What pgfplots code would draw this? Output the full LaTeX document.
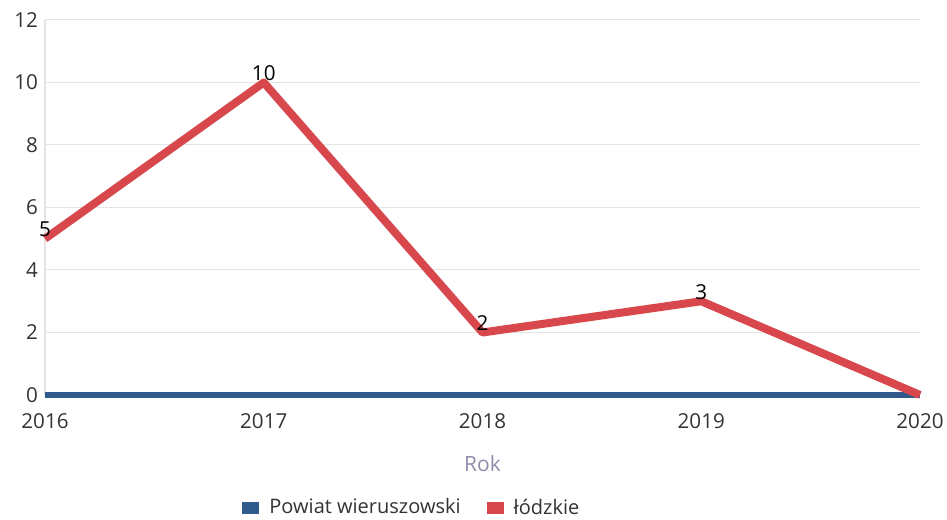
\documentclass[border=0pt]{standalone}
\usepackage{pgfplots}
\pgfplotsset{compat=1.18}
\usepackage{fontspec}
\setmainfont{Open Sans}
\definecolor{redl}{HTML}{D8474C}
\definecolor{bluel}{HTML}{2F5A8A}
\definecolor{gridc}{HTML}{E4E4E4}
\definecolor{tickc}{HTML}{333333}
\definecolor{rokc}{HTML}{8E8CA8}
\begin{document}
\begin{tikzpicture}[x=1pt,y=1pt]
\useasboundingbox (0,0) rectangle (473.5,259.5);
\begin{axis}[
  at={(22.5pt,62pt)}, anchor=south west,
  scale only axis, width=437.5pt, height=187.5pt,
  xmin=2016, xmax=2020, ymin=0, ymax=12,
  xtick={2016,2017,2018,2019,2020},
  ytick={0,2,4,6,8,10,12},
  /pgf/number format/assume math mode=true,
  xticklabel={\pgfmathprintnumber[1000 sep={}]{\tick}},
  tick label style={font=\fontsize{10.3}{12}\selectfont, text=tickc},
  xticklabel style={yshift=-5.5pt},
  major tick length=0pt,
  ymajorgrids, grid style={gridc, line width=0.5pt},
  axis x line*=bottom, axis y line*=left,
  x axis line style={draw=none},
  y axis line style={gridc, line width=0.8pt},
  xlabel={Rok}, xlabel style={font=\fontsize{10.5}{12}\selectfont, text=rokc, yshift=-7pt},
  clip=false,
  legend style={at={(0.417,-0.301)}, anchor=center, draw=none, legend columns=2,
    font=\fontsize{10}{12}\selectfont, text=tickc,
    /tikz/every even column/.append style={column sep=8pt}},
  legend image code/.code={\draw[#1, line width=6pt, line cap=butt] (0pt,-0.3pt) -- (8.5pt,-0.3pt);},
]
\addplot[bluel, line width=3pt] coordinates {(2016,0) (2017,0) (2018,0) (2019,0) (2020,0)};
\addlegendentry{Powiat wieruszowski}
\addplot[redl, line width=4pt, line join=round] coordinates {(2016,5) (2017,10) (2018,2) (2019,3) (2020,0)};
\addlegendentry{łódzkie}
\addplot[draw=none, forget plot, nodes near coords, point meta=y,
  every node near coord/.style={anchor=center, yshift=4.5pt, font=\fontsize{10.3}{12}\selectfont, text=black,
    /pgf/number format/assume math mode=true}]
  coordinates {(2016,5) (2017,10) (2018,2) (2019,3)};
\end{axis}
\end{tikzpicture}
\end{document}
